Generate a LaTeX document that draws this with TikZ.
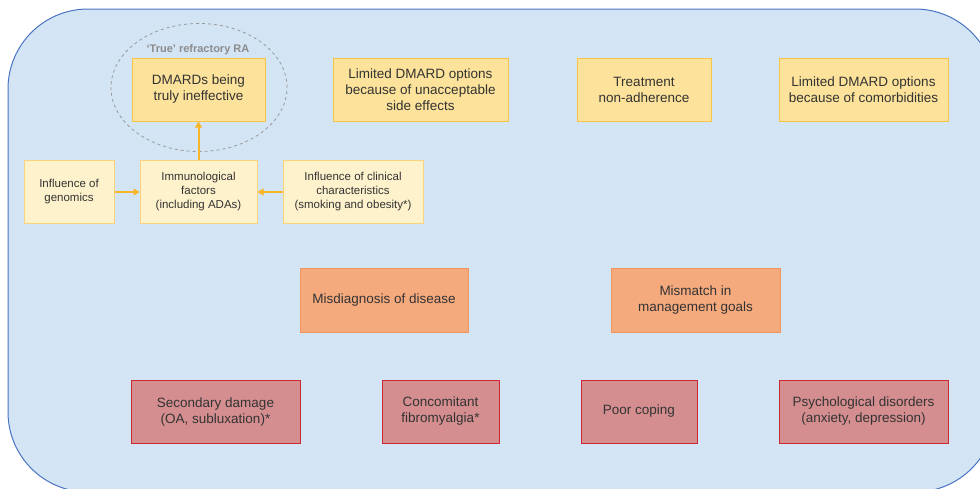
\documentclass[tikz,border=0pt]{standalone}
\usepackage{fontspec}
\setmainfont{Liberation Sans}
\usetikzlibrary{arrows.meta,shapes.geometric}
\definecolor{bgfill}{HTML}{D3E4F5}
\definecolor{bgdraw}{HTML}{4A74C4}
\definecolor{yfill}{HTML}{FCE29A}
\definecolor{ydraw}{HTML}{F7C444}
\definecolor{lfill}{HTML}{FEF2CC}
\definecolor{ldraw}{HTML}{F9D47C}
\definecolor{ofill}{HTML}{F5AA7E}
\definecolor{odraw}{HTML}{F0955C}
\definecolor{rfill}{HTML}{D58E8F}
\definecolor{rdraw}{HTML}{CB2A30}
\definecolor{arr}{HTML}{F8B527}
\definecolor{txt}{HTML}{333333}
\tikzset{
  basebox/.style={rectangle, inner sep=0pt, align=center, text=txt, line width=1pt},
  bigtext/.style={font=\fontsize{13.5}{16}\selectfont},
  smalltext/.style={font=\fontsize{11.5}{14}\selectfont},
  ybox/.style={basebox, bigtext, fill=yfill, draw=ydraw, minimum height=63pt},
  lbox/.style={basebox, smalltext, fill=lfill, draw=ldraw, minimum height=63pt},
  obox/.style={basebox, bigtext, fill=ofill, draw=odraw, minimum height=64pt},
  rbox/.style={basebox, bigtext, fill=rfill, draw=rdraw, minimum height=63pt},
  conn/.style={draw=arr, line width=2pt, -{Triangle[length=6pt,width=7pt]}},
}
\begin{document}
\begin{tikzpicture}[x=1pt,y=-1pt]
\useasboundingbox (0,0) rectangle (980,488);
\draw[fill=bgfill, draw=bgdraw, line width=1pt, rounded corners=80pt] (8,9) rectangle (995,492);

\node[draw=gray!80, dashed, line width=0.8pt, ellipse, minimum width=176pt, minimum height=128pt, inner sep=0pt] (ell) at (199,87.5) {};
\node[text=gray!90, font=\fontsize{11}{13}\selectfont\bfseries] (ellab) at (198,49.5) {‘True’ refractory RA};

\node[ybox, minimum width=133pt] (dmards) at (198.5,89.5) {DMARDs being\\truly ineffective};
\node[ybox, minimum width=175pt] (sidefx) at (420.5,89.5) {Limited DMARD options\\because of unacceptable\\side effects};
\node[ybox, minimum width=134pt] (nonadh) at (644,89.5) {Treatment\\non-adherence};
\node[ybox, minimum width=169pt] (comorb) at (863.5,89.5) {Limited DMARD options\\because of comorbidities};

\node[lbox, minimum width=90pt] (genom) at (69,192) {Influence of\\genomics};
\node[lbox, minimum width=117pt] (immuno) at (198.5,192) {Immunological\\factors\\(including ADAs)};
\node[lbox, minimum width=140pt] (clin) at (353,192) {Influence of clinical\\characteristics\\(smoking and obesity*)};

\node[obox, minimum width=168pt] (misdiag) at (384,300) {Misdiagnosis of disease};
\node[obox, minimum width=169pt] (mismatch) at (695.5,300) {Mismatch in\\management goals};

\node[rbox, minimum width=169pt] (secdam) at (215.5,411.5) {Secondary damage\\(OA, subluxation)*};
\node[rbox, minimum width=117pt] (fibro) at (440.5,411.5) {Concomitant\\fibromyalgia*};
\node[rbox, minimum width=116pt] (coping) at (639,411.5) {Poor coping};
\node[rbox, minimum width=169pt] (psych) at (863.5,411.5) {Psychological disorders\\(anxiety, depression)};

\draw[conn] (genom) -- (immuno);
\draw[conn] (clin) -- (immuno);
\draw[conn] (immuno) -- (dmards);
\end{tikzpicture}
\end{document}
